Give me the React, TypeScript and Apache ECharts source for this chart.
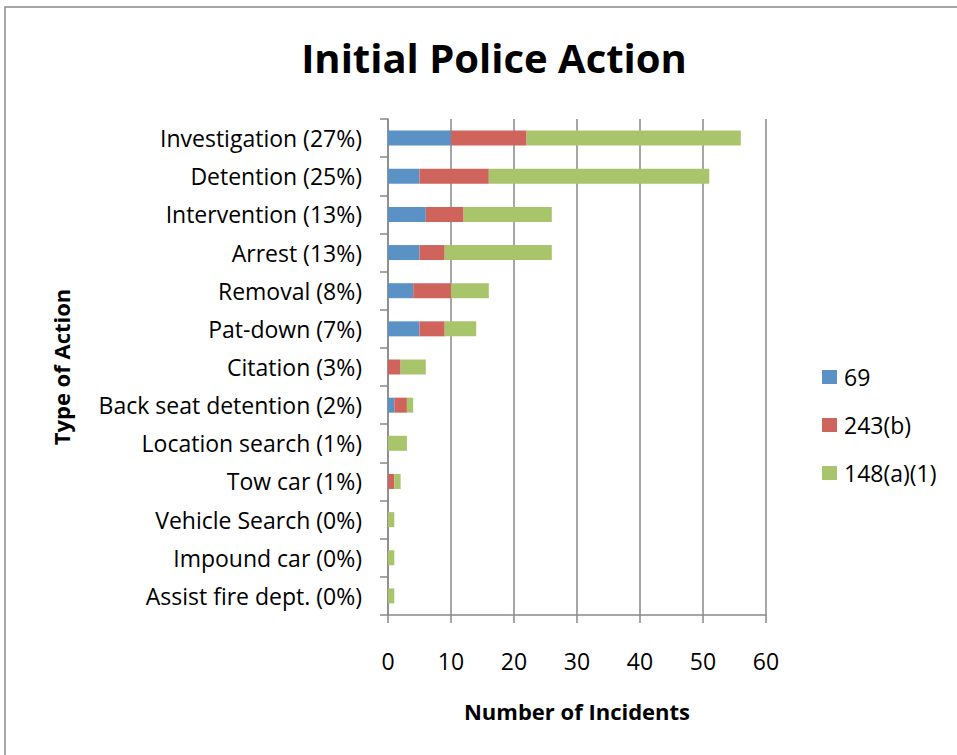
import React, { useEffect, useRef } from "react";
import * as echarts from "echarts";

const categories = [
  "Investigation (27%)",
  "Detention (25%)",
  "Intervention (13%)",
  "Arrest (13%)",
  "Removal (8%)",
  "Pat-down (7%)",
  "Citation (3%)",
  "Back seat detention (2%)",
  "Location search (1%)",
  "Tow car (1%)",
  "Vehicle Search (0%)",
  "Impound car (0%)",
  "Assist fire dept. (0%)",
];
const series69 = [10, 5, 6, 5, 4, 5, 0, 1, 0, 0, 0, 0, 0];
const series243b = [12, 11, 6, 4, 6, 4, 2, 2, 0, 1, 0, 0, 0];
const series148a1 = [34, 35, 14, 17, 6, 5, 4, 1, 3, 1, 1, 1, 1];
const seriesNames = ["69", "243(b)", "148(a)(1)"];
const colors = ["#5A92C6", "#CF645D", "#A9C56B"];
const xTicks = { min: 0, max: 60, interval: 10 };

const FONT = "'Open Sans', sans-serif";

export default function App() {
  const ref = useRef<HTMLDivElement>(null);
  useEffect(() => {
    if (!ref.current) return;
    const chart = echarts.init(ref.current, undefined, { renderer: "svg" });
    const data = [series69, series243b, series148a1];
    chart.setOption({
      animation: false,
      backgroundColor: "#ffffff",
      textStyle: { fontFamily: FONT },
      title: {
        text: "Initial Police Action",
        left: 489,
        top: 32,
        textAlign: "center",
        textStyle: { fontFamily: FONT, fontSize: 40, fontWeight: "bold", color: "#000" },
      },
      graphic: [
        {
          type: "rect",
          shape: { x: 5, y: 7, width: 1000, height: 800 },
          style: { fill: "none", stroke: "#8a8a8a", lineWidth: 1.5 },
          silent: true,
        },
      ],
      legend: {
        orient: "vertical",
        left: 822,
        top: 363,
        padding: 0,
        itemWidth: 15,
        itemHeight: 14,
        itemGap: 20,
        icon: "rect",
        data: seriesNames,
        textStyle: { fontFamily: FONT, fontSize: 23, color: "#000", lineHeight: 28, padding: [0, 0, 0, 2] },
      },
      grid: { left: 388, right: 191, top: 119, bottom: 140 },
      xAxis: {
        type: "value",
        min: xTicks.min,
        max: xTicks.max,
        interval: xTicks.interval,
        name: "Number of Incidents",
        nameLocation: "middle",
        nameGap: 85,
        nameTextStyle: { fontFamily: FONT, fontSize: 22, fontWeight: "bold", color: "#000" },
        axisLine: { show: true, lineStyle: { color: "#888", width: 1.5 } },
        axisTick: { show: true, length: 8, lineStyle: { color: "#888", width: 1.5 } },
        axisLabel: { margin: 34, fontFamily: FONT, fontSize: 23, color: "#000" },
        splitLine: { show: true, lineStyle: { color: "#888", width: 1.5 } },
      },
      yAxis: {
        type: "category",
        data: categories,
        inverse: true,
        name: "Type of Action",
        nameLocation: "middle",
        nameRotate: 90,
        nameGap: 316,
        nameTextStyle: { fontFamily: FONT, fontSize: 22, fontWeight: "bold", color: "#000" },
        axisLine: { show: true, lineStyle: { color: "#888", width: 1.5 } },
        axisTick: { show: true, length: 8, alignWithLabel: false, lineStyle: { color: "#888", width: 1.5 } },
        axisLabel: { margin: 26, fontFamily: FONT, fontSize: 23, color: "#000" },
        splitLine: { show: false },
      },
      series: seriesNames.map((name, i) => ({
        name,
        type: "bar",
        stack: "total",
        barWidth: 15,
        data: data[i],
        itemStyle: { color: colors[i] },
      })),
    });
    return () => chart.dispose();
  }, []);
  return (
    <div
      ref={ref}
      style={{ position: "absolute", left: 0, top: 0, width: 957, height: 755 }}
    />
  );
}
